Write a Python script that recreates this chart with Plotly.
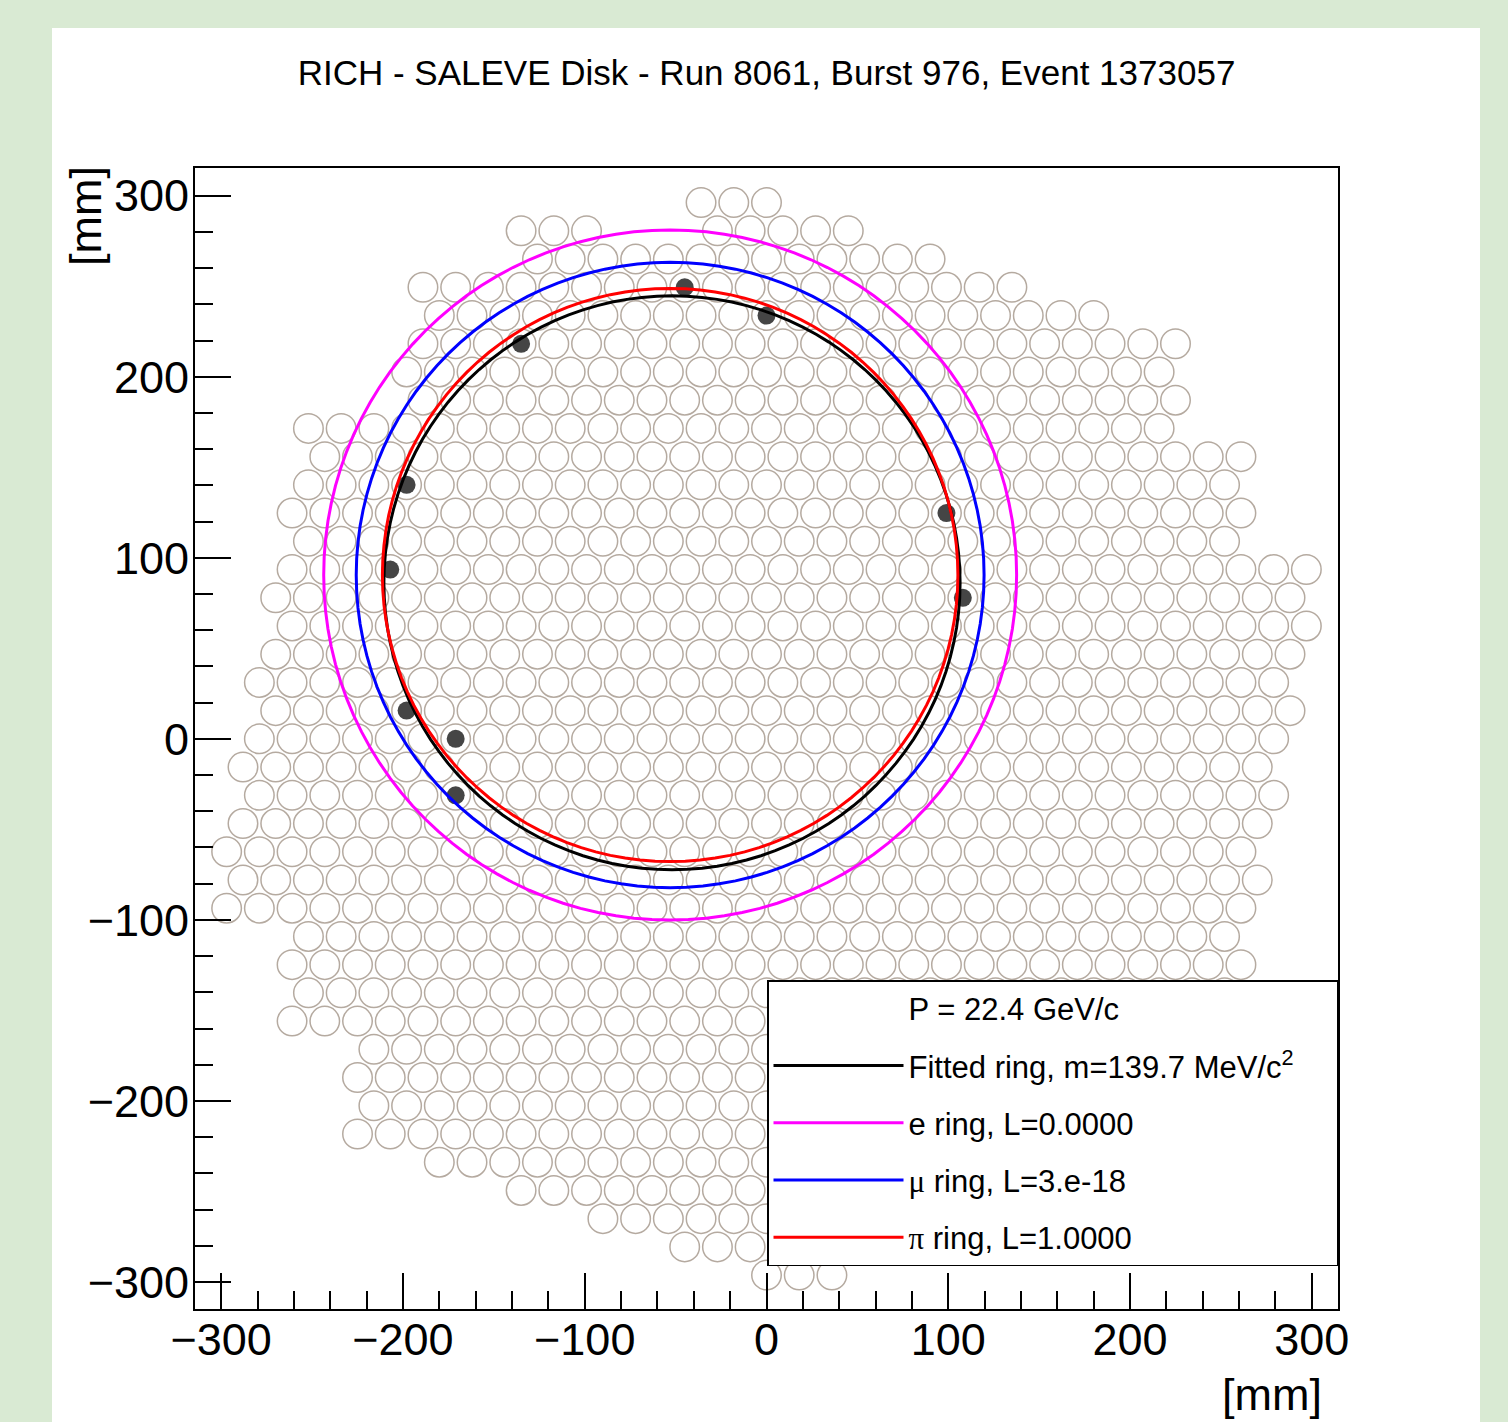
import numpy as np
import plotly.graph_objects as go

# ---------------- data ----------------
TITLE = "RICH - SALEVE Disk - Run 8061, Burst 976, Event 1373057"

# PMT hexagonal grid: pitch (mm), row numbers (top to bottom) and, for each
# row, the [first, last] PMT x-centre (mm) of every contiguous run of PMTs.
PMT_PITCH = 18.0
ROW_NUMBER = [19, 18, 17, 16, 15, 14, 13, 12, 11, 10, 9, 8, 7, 6, 5, 4, 3, 2, 1, 0,
              -1, -2, -3, -4, -5, -6, -7, -8, -9, -10, -11, -12, -13, -14, -15,
              -16, -17, -18, -19]
ROW_SEGMENTS = [
    [(-36, 0)],
    [(-135, -99), (-27, 45)],
    [(-126, 90)],
    [(-189, 135)],
    [(-180, 180)],
    [(-189, 225)],
    [(-198, 216)],
    [(-189, 225)],
    [(-252, 216)],
    [(-243, 261)],
    [(-252, 252)],
    [(-261, 261)],
    [(-252, 252)],
    [(-261, 297)],
    [(-270, 288)],
    [(-261, 297)],
    [(-270, 288)],
    [(-279, 279)],
    [(-270, 288)],
    [(-279, 279)],
    [(-288, 270)],
    [(-279, 279)],
    [(-288, 270)],
    [(-297, 261)],
    [(-288, 270)],
    [(-297, 261)],
    [(-252, 252)],
    [(-261, 261)],
    [(-252, 252)],
    [(-261, 243)],
    [(-216, 252)],
    [(-225, 189)],
    [(-216, 198)],
    [(-225, 189)],
    [(-180, 180)],
    [(-135, 189)],
    [(-90, 126)],
    [(-45, 27), (99, 135)],
    [(0, 36)],
]

# fired PMTs (mm)
HIT_X = [-45, 0, -135, -198, 99, -207, 108, -198, -171, -171]
HIT_Y = [249.4, 233.8, 218.2, 140.3, 124.7, 93.5, 77.9, 15.6, 0.0, -31.2]

# rings: centre (mm), radius (mm)
HEADER = "P = 22.4 GeV/c"
RING_LABELS = [
    "Fitted ring, m=139.7 MeV/c<sup>2</sup>\u2003\u2009",
    "e ring, L=0.0000",
    "<span style=\"font-family:'Liberation Serif'\">\u03bc</span> ring, L=3.e-18",
    "<span style=\"font-family:'Liberation Serif'\">\u03c0</span> ring, L=1.0000",
]
RING_CX = [-52.0, -53.0, -53.0, -53.0]
RING_CY = [86.2, 90.5, 90.5, 90.5]
RING_R = [158.5, 190.6, 172.7, 158.3]
RING_COLORS = ["#000000", "#ff00ff", "#0000ff", "#ff0000"]

X_RANGE = [-314.4, 314.4]
Y_RANGE = [-314.9, 315.3]
X_TITLE = "[mm]"
Y_TITLE = "[mm]"

# ---------------- build figure ----------------
FONT = "Liberation Sans, Arial, Helvetica, sans-serif"
row_dy = PMT_PITCH * np.sqrt(3) / 2

pmt_x, pmt_y = [], []
for k, segs in zip(ROW_NUMBER, ROW_SEGMENTS):
    for a, b in segs:
        xs = np.arange(a, b + 0.1, PMT_PITCH)
        pmt_x.extend(xs.tolist())
        pmt_y.extend([k * row_dy] * len(xs))

fig = go.Figure()

fig.add_trace(go.Scatter(
    x=pmt_x, y=pmt_y, mode="markers", showlegend=False, hoverinfo="skip",
    marker=dict(symbol="circle-open", size=29.5, color="#b5aaa0",
                line=dict(width=1.5, color="#b5aaa0")),
))

fig.add_trace(go.Scatter(
    x=HIT_X, y=HIT_Y, mode="markers", showlegend=False, hoverinfo="skip",
    marker=dict(symbol="circle", size=18, color="#454545", line=dict(width=0)),
))

fig.add_trace(go.Scatter(
    x=[None], y=[None], mode="lines", name=HEADER, legendgroup="g0",
    line=dict(color="rgba(0,0,0,0)", width=3),
))

theta = np.linspace(0, 2 * np.pi, 121)
for i, (lab, cx, cy, r, col) in enumerate(zip(RING_LABELS, RING_CX, RING_CY, RING_R, RING_COLORS)):
    fig.add_trace(go.Scatter(
        x=cx + r * np.cos(theta), y=cy + r * np.sin(theta), mode="lines",
        name=lab, legendgroup="g%d" % (i + 1), hoverinfo="skip",
        line=dict(color=col, width=3),
    ))

W, H = 1508, 1422
ML, MR, MT, MB = 195, 170, 168, 113
pw, ph = W - ML - MR, H - MT - MB

def px2paper_x(px):
    return (px - ML) / pw

def px2paper_y(py):
    return (H - MB - py) / ph

axis_common = dict(
    showgrid=False, zeroline=False, showline=True, linecolor="black", linewidth=2,
    mirror=True, ticks="inside", ticklen=36, tickwidth=1.5, tickcolor="black",
    tickmode="linear", tick0=0, dtick=100,
    minor=dict(ticks="inside", ticklen=18, tickwidth=1.5, tickcolor="black",
               tickmode="linear", tick0=0, dtick=20),
    tickfont=dict(family=FONT, size=45, color="black"),
)

fig.update_layout(
    width=W, height=H,
    margin=dict(l=ML, r=MR, t=MT, b=MB, pad=0),
    paper_bgcolor="#d9ead3", plot_bgcolor="white",
    title=dict(text=TITLE, x=0.5, xref="paper", xanchor="center",
               y=1 - 73 / H, yref="container", yanchor="middle",
               font=dict(family=FONT, size=35, color="black")),
    xaxis=dict(range=X_RANGE, ticklabelstandoff=-10, **axis_common),
    yaxis=dict(range=Y_RANGE, ticklabelstandoff=-5, **axis_common),
    legend=dict(x=1, xanchor="right", y=px2paper_y(1266), yanchor="bottom",
                bgcolor="white", bordercolor="black", borderwidth=1.5,
                font=dict(family=FONT, size=31, color="black"),
                itemwidth=130, tracegroupgap=14, traceorder="grouped"),
    shapes=[dict(type="rect", xref="paper", yref="paper", layer="below",
                 x0=px2paper_x(52), x1=px2paper_x(1480),
                 y0=px2paper_y(1440), y1=px2paper_y(28),
                 fillcolor="white", line=dict(width=0))],
    annotations=[
        dict(text=X_TITLE, xref="paper", yref="paper", x=px2paper_x(1324),
             y=px2paper_y(1394), xanchor="right", yanchor="middle", showarrow=False,
             font=dict(family=FONT, size=45, color="black")),
        dict(text=Y_TITLE, xref="paper", yref="paper", x=px2paper_x(85),
             y=px2paper_y(164), xanchor="center", yanchor="top", textangle=-90,
             showarrow=False, font=dict(family=FONT, size=45, color="black")),
    ],
)

fig.write_html("out.html", config={"displayModeBar": False},
               post_script="document.body.style.margin='0';document.body.style.overflow='hidden';")
